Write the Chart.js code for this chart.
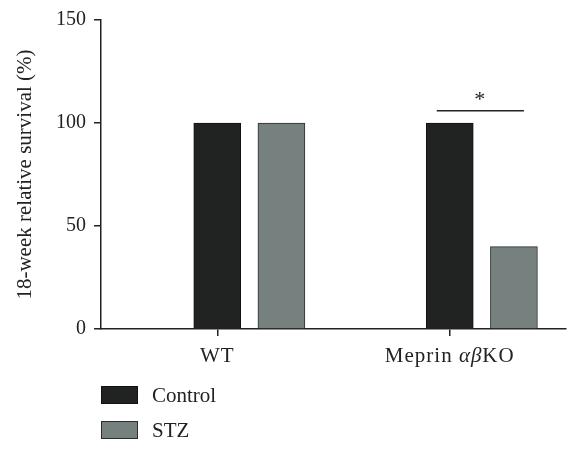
<!DOCTYPE html>
<html>
<head>
<meta charset="utf-8">
<script src="https://cdn.jsdelivr.net/npm/chart.js@4.4.1/dist/chart.umd.min.js"></script>
<style>
  body { margin: 0; background: #fff; }
  #wrap { width: 580px; height: 453px; position: relative; }
</style>
</head>
<body>
<div id="wrap"><canvas id="survivalChart"></canvas></div>
<script>
  // chart data
  var categories = ['WT', 'Meprin αβKO'];
  var seriesNames = ['Control', 'STZ'];
  var controlValues = [100, 100];
  var stzValues = [100, 40];
  var yTickValues = [0, 50, 100, 150];

  var FONT = "'Liberation Serif', 'Times New Roman', serif";
  var INK = '#222';
  var fills = ['#202322', '#76807f'];
  var borders = ['#111', '#2b2e2d'];
  var stzShift = 0.276; // STZ bar sits right of the category tick

  document.addEventListener('DOMContentLoaded', function() {
    createSurvivalChart();
  });

  // draws x labels (greek letters in italic), the significance bar and the legend
  var extrasPlugin = {
    id: 'extras',
    afterDraw: function(chart) {
      var ctx = chart.ctx;
      var x = chart.scales.x;
      var y = chart.scales.y;
      var area = chart.chartArea;
      ctx.save();

      // category labels
      ctx.fillStyle = INK;
      ctx.textBaseline = 'alphabetic';
      ctx.letterSpacing = '1px';
      categories.forEach(function(label, i) {
        var parts = label.split(/([α-ω]+)/).filter(function(p) { return p.length; });
        var widths = parts.map(function(p) {
          ctx.font = (/[α-ω]/.test(p) ? 'italic ' : '') + '21px ' + FONT;
          return ctx.measureText(p).width;
        });
        var total = widths.reduce(function(a, b) { return a + b; }, 0);
        var cx = x.getPixelForValue(i + 1) - total / 2;
        parts.forEach(function(p, k) {
          ctx.font = (/[α-ω]/.test(p) ? 'italic ' : '') + '21px ' + FONT;
          ctx.textAlign = 'left';
          ctx.fillText(p, cx, area.bottom + 33);
          cx += widths[k];
        });
      });
      ctx.letterSpacing = '0px';

      // significance bar over Meprin group
      var c = x.getPixelForValue(2);
      var s = x.getPixelForValue(2 + stzShift);
      var ly = y.getPixelForValue(106);
      ctx.strokeStyle = INK;
      ctx.lineWidth = 1.5;
      ctx.beginPath();
      ctx.moveTo(c - 13, ly);
      ctx.lineTo(s + 10, ly);
      ctx.stroke();
      ctx.font = '22px ' + FONT;
      ctx.textAlign = 'center';
      ctx.textBaseline = 'middle';
      ctx.fillText('*', (c + s) / 2 - 2, ly - 10);

      // legend
      seriesNames.forEach(function(name, i) {
        var by = 386 + i * 35;
        ctx.fillStyle = fills[i];
        ctx.fillRect(101, by, 37, 18);
        ctx.strokeStyle = borders[i];
        ctx.lineWidth = 1;
        ctx.strokeRect(101.5, by + 0.5, 36, 17);
        ctx.fillStyle = INK;
        ctx.font = '21px ' + FONT;
        ctx.textAlign = 'left';
        ctx.textBaseline = 'middle';
        ctx.fillText(name, 152, by + 10);
      });
      ctx.restore();
    }
  };

  function createSurvivalChart() {
    var canvas = document.getElementById('survivalChart');

    var controlPoints = categories.map(function(c, i) { return { x: i + 1, y: controlValues[i] }; });
    var stzPoints = categories.map(function(c, i) { return { x: i + 1 + stzShift, y: stzValues[i] }; });

    var data = {
      datasets: [{
        label: seriesNames[0],
        data: controlPoints,
        backgroundColor: fills[0],
        borderColor: borders[0],
        borderWidth: 1
      }, {
        label: seriesNames[1],
        data: stzPoints,
        backgroundColor: fills[1],
        borderColor: borders[1],
        borderWidth: 1
      }]
    };

    var options = {
      responsive: true,
      maintainAspectRatio: false,
      animation: false,
      grouped: false,
      barThickness: 47,
      maxBarThickness: 47,
      layout: { padding: { left: 0, top: 20, right: 14, bottom: 84 } },
      plugins: {
        legend: { display: false },
        tooltip: { enabled: false }
      },
      scales: {
        x: {
          type: 'linear',
          offset: false,
          min: 0.5,
          max: 2.5,
          afterBuildTicks: function(scale) {
            scale.ticks = categories.map(function(c, i) { return { value: i + 1 }; });
          },
          afterFit: function(scale) { scale.height = 40; },
          ticks: { display: false },
          grid: { offset: false, drawOnChartArea: false, tickLength: 7, color: INK, lineWidth: 1.5 },
          border: { color: INK, width: 1.5 }
        },
        y: {
          min: 0,
          max: 150,
          afterBuildTicks: function(scale) {
            scale.ticks = yTickValues.map(function(v) { return { value: v }; });
          },
          afterFit: function(scale) { scale.width = 101; },
          ticks: { padding: 8, color: INK, font: { family: FONT, size: 20 } },
          grid: { drawOnChartArea: false, tickLength: 7, color: INK, lineWidth: 1.5 },
          border: { color: INK, width: 1.5 },
          title: {
            display: true,
            text: '18-week relative survival (%)',
            color: INK,
            font: { family: FONT, size: 21, lineHeight: 1.2 },
            padding: { top: 13, bottom: 0 }
          }
        }
      }
    };

    new Chart(canvas, {
      type: 'bar',
      data: data,
      options: options,
      plugins: [extrasPlugin]
    });
  }
</script>
</body>
</html>
